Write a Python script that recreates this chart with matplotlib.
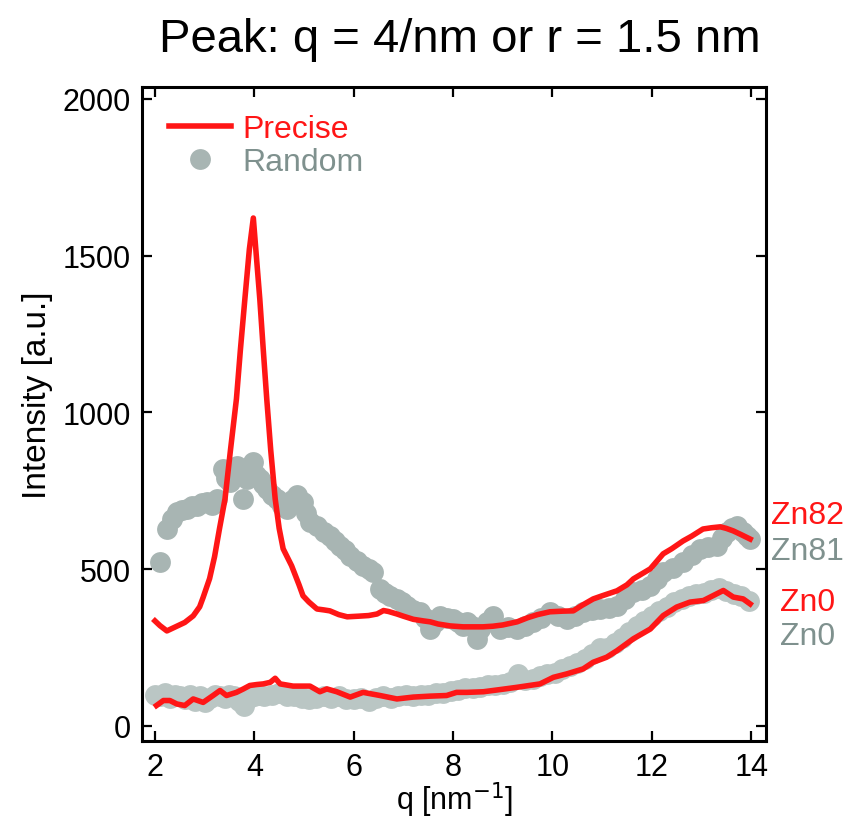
import matplotlib
matplotlib.use("Agg")
import matplotlib.pyplot as plt

plt.rcParams['font.family'] = ['Liberation Sans', 'DejaVu Sans']

# Precise Zn82 (red, upper)
q_p82 = [2.00, 2.10, 2.24, 2.40, 2.60, 2.77, 2.90, 2.97, 3.10, 3.20, 3.30, 3.41,
         3.52, 3.64, 3.72, 3.81, 3.90, 3.98, 4.04, 4.11, 4.18, 4.25, 4.33, 4.42,
         4.50, 4.58, 4.75, 4.90, 4.98, 5.10, 5.26, 5.40, 5.52, 5.70, 5.87, 6.10,
         6.30, 6.47, 6.60, 6.70, 6.87, 7.00, 7.20, 7.40, 7.54, 7.70, 7.94, 8.20,
         8.40, 8.60, 8.80, 9.00, 9.29, 9.50, 9.70, 9.95, 10.20, 10.42, 10.60, 10.82,
         11.00, 11.30, 11.50, 11.63, 11.80, 11.97, 12.10, 12.23, 12.40, 12.63, 12.80,
         13.03, 13.20, 13.38, 13.50, 13.64, 13.80, 13.98]
i_p82 = [335, 320, 303, 315, 330, 351, 380, 410, 470, 540, 630, 724,
         880, 1043, 1200, 1362, 1520, 1620, 1500, 1362, 1200, 1043, 880, 724,
         630, 565, 511, 450, 415, 395, 373, 370, 367, 355, 348, 350,
         352, 357, 368, 365, 357, 350, 340, 335, 332, 325, 319, 316,
         316, 316, 318, 322, 332, 345, 355, 364, 366, 367, 385, 405,
         415, 431, 450, 469, 485, 501, 525, 549, 565, 590, 605,
         628, 632, 635, 630, 622, 610, 596]

# Precise Zn0 (red, lower)
q_p0 = [2.03, 2.17, 2.30, 2.44, 2.60, 2.77, 2.97, 3.17, 3.31, 3.44, 3.64, 3.78,
        3.91, 4.05, 4.18, 4.32, 4.42, 4.52, 4.78, 5.12, 5.32, 5.46, 5.66, 5.93,
        6.19, 6.53, 6.87, 7.20, 7.54, 7.87, 8.07, 8.28, 8.61, 8.95, 9.28, 9.75,
        10.02, 10.29, 10.62, 10.82, 11.09, 11.30, 11.63, 11.97, 12.23, 12.50, 12.77,
        13.04, 13.24, 13.44, 13.64, 13.84, 13.98]
i_p0 = [65, 81, 81, 70, 65, 86, 75, 97, 113, 97, 107, 118,
        129, 132, 134, 139, 152, 134, 127, 127, 109, 118, 109, 92,
        107, 97, 86, 92, 95, 97, 107, 107, 109, 116, 123, 134,
        155, 166, 182, 203, 219, 240, 278, 309, 352, 379, 395,
        400, 416, 432, 411, 405, 389]

# Random Zn81 (grey, upper)
q_r81 = [2.10, 2.24, 2.34, 2.44, 2.54, 2.64, 2.75, 2.85, 2.95, 3.05, 3.15, 3.25,
         3.37, 3.44, 3.51, 3.58, 3.65, 3.72, 3.78, 3.85, 3.92, 3.97, 4.04, 4.11,
         4.18, 4.25, 4.35, 4.45, 4.55, 4.65, 4.76, 4.86, 4.98, 5.05, 5.12, 5.26,
         5.40, 5.52, 5.62, 5.72, 5.83, 5.93, 6.06, 6.19, 6.30, 6.39, 6.53, 6.63,
         6.73, 6.87, 6.97, 7.07, 7.20, 7.34, 7.44, 7.54, 7.64, 7.74, 7.87, 8.00,
         8.10, 8.20, 8.28, 8.38, 8.48, 8.54, 8.68, 8.81, 8.95, 9.10, 9.29, 9.45,
         9.61, 9.78, 9.95, 10.12, 10.29, 10.45, 10.62, 10.80, 10.96, 11.13, 11.30,
         11.47, 11.63, 11.80, 11.97, 12.10, 12.23, 12.43, 12.63, 12.80, 12.97,
         13.14, 13.31, 13.42, 13.52, 13.62, 13.72, 13.84, 13.92, 13.98]
i_r81 = [523, 628, 660, 683, 690, 692, 700, 703, 710, 714, 705, 724,
         820, 790, 778, 815, 830, 800, 724, 788, 820, 841, 800, 788,
         770, 756, 735, 724, 700, 692, 720, 735, 714, 680, 650, 638,
         620, 606, 590, 574, 560, 542, 525, 510, 500, 491, 437, 425,
         415, 405, 395, 383, 370, 364, 345, 309, 330, 351, 345, 341,
         330, 319, 332, 320, 278, 309, 330, 351, 309, 315, 309, 320,
         332, 345, 364, 350, 341, 350, 364, 370, 373, 375, 383,
         405, 427, 435, 447, 470, 491, 505, 523, 545, 565,
         570, 574, 600, 619, 630, 638, 619, 605, 596]

# Random Zn0 (grey, lower)
q_r0 = [2.00, 2.10, 2.20, 2.30, 2.40, 2.50, 2.60, 2.70, 2.80, 2.90, 3.00, 3.10,
        3.20, 3.30, 3.40, 3.50, 3.60, 3.70, 3.80, 3.90, 4.00, 4.10, 4.20, 4.35,
        4.50, 4.65, 4.80, 4.95, 5.10, 5.25, 5.40, 5.55, 5.70, 5.85, 6.00, 6.15,
        6.30, 6.45, 6.60, 6.75, 6.90, 7.05, 7.20, 7.35, 7.50, 7.65, 7.80, 7.95,
        8.10, 8.25, 8.40, 8.55, 8.70, 8.85, 9.00, 9.15, 9.30, 9.45, 9.60, 9.75,
        9.90, 10.05, 10.20, 10.35, 10.50, 10.65, 10.80, 10.95, 11.10, 11.25, 11.40,
        11.55, 11.70, 11.85, 12.00, 12.15, 12.30, 12.45, 12.60, 12.75, 12.90, 13.05,
        13.20, 13.35, 13.50, 13.65, 13.80, 13.95]
i_r0 = [100, 95, 105, 90, 100, 95, 85, 100, 80, 95, 75, 90,
        100, 95, 90, 100, 95, 80, 65, 90, 95, 100, 95, 100,
        105, 95, 95, 90, 85, 90, 95, 90, 95, 85, 85, 90,
        80, 90, 95, 90, 95, 100, 95, 100, 100, 105, 105, 110,
        115, 120, 120, 125, 130, 130, 135, 140, 165, 145, 150, 160,
        165, 170, 180, 190, 200, 215, 230, 250, 250, 265, 280,
        300, 320, 335, 350, 365, 380, 395, 405, 415, 420, 425,
        435, 440, 430, 420, 415, 400]

xticks = [2, 4, 6, 8, 10, 12, 14]
yticks = [0, 500, 1000, 1500, 2000]

red = '#ff1616'
grey = '#a8b5b3'
grey_light = '#bac6c4'
grey_text = '#7f918e'

fig = plt.figure(figsize=(8.49, 8.28), dpi=100)
ax = fig.add_axes([0.1673, 0.1039, 0.735, 0.7899])

ax.plot(q_r0, i_r0, 'o', color=grey_light, markersize=15, markeredgewidth=0, zorder=1)
ax.plot(q_r81, i_r81, 'o', color=grey, markersize=15, markeredgewidth=0, zorder=1, label='Random')
ax.plot(q_p0, i_p0, '-', color=red, linewidth=4, zorder=3)
ax.plot(q_p82, i_p82, '-', color=red, linewidth=4, zorder=3, label='Precise')

ax.set_xlim(1.74, 14.3)
ax.set_ylim(-48, 2038)
ax.set_xticks(xticks)
ax.set_yticks(yticks)
ax.tick_params(direction='in', length=7, width=1.6, top=True, right=True,
               labelsize=22, pad=8)
for s in ax.spines.values():
    s.set_linewidth(2.2)

handles, labels = ax.get_legend_handles_labels()
leg = ax.legend(handles[::-1], labels[::-1], loc='upper left', bbox_to_anchor=(0.0, 1.0),
                frameon=False, fontsize=23, handlelength=1.95, handletextpad=0.35,
                labelspacing=0.1, numpoints=1, borderaxespad=0.3, borderpad=0.55)
for txt, c in zip(leg.get_texts(), [red, grey_text]):
    txt.set_color(c)

ax.annotate('Zn82', xy=(1.067, 0.346), xycoords='axes fraction', ha='center', va='center',
            fontsize=23, color=red, annotation_clip=False)
ax.annotate('Zn81', xy=(1.067, 0.290), xycoords='axes fraction', ha='center', va='center',
            fontsize=23, color=grey_text, annotation_clip=False)
ax.annotate('Zn0', xy=(1.067, 0.213), xycoords='axes fraction', ha='center', va='center',
            fontsize=23, color=red, annotation_clip=False)
ax.annotate('Zn0', xy=(1.067, 0.160), xycoords='axes fraction', ha='center', va='center',
            fontsize=23, color=grey_text, annotation_clip=False)

fig.text(0.542, 0.937, 'Peak: q = 4/nm or r = 1.5 nm', ha='center', va='baseline', fontsize=34)
fig.text(0.536, 0.034, 'q [nm$^{-1}$]', ha='center', va='center', fontsize=22)
fig.text(0.044, 0.523, 'Intensity [a.u.]', ha='center', va='center', rotation=90, fontsize=24)

fig.savefig('out.png', dpi=100)
